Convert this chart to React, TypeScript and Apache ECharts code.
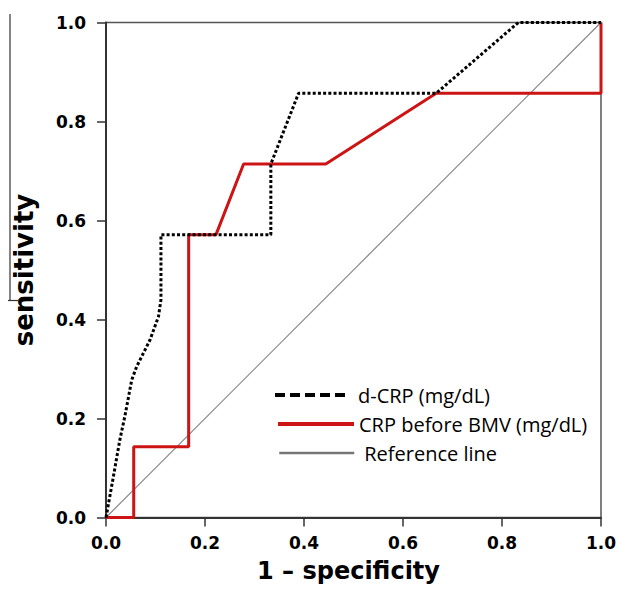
import React, { useEffect, useRef } from "react";
import * as echarts from "echarts";

const xTicks = ["0.0", "0.2", "0.4", "0.6", "0.8", "1.0"];
const yTicks = ["0.0", "0.2", "0.4", "0.6", "0.8", "1.0"];
const seriesNames = ["d-CRP (mg/dL)", "CRP before BMV (mg/dL)", "Reference line"];

const dCrpX = [0, 0.015, 0.028, 0.038, 0.052, 0.062, 0.089, 0.106, 0.111, 0.111, 0.333, 0.333, 0.389, 0.667, 0.833, 1.0];
const dCrpY = [0, 0.083, 0.157, 0.204, 0.278, 0.305, 0.359, 0.406, 0.44, 0.571, 0.571, 0.714, 0.857, 0.857, 1.0, 1.0];

const crpX = [0, 0.056, 0.056, 0.167, 0.167, 0.222, 0.278, 0.444, 0.667, 1.0, 1.0];
const crpY = [0, 0, 0.143, 0.143, 0.571, 0.571, 0.714, 0.714, 0.857, 0.857, 1.0];

const refX = [0, 1];
const refY = [0, 1];

const zip = (xs: number[], ys: number[]) => xs.map((x, i) => [x, ys[i]]);

export default function App() {
  const ref = useRef<HTMLDivElement>(null);
  useEffect(() => {
    if (!ref.current) return;
    const chart = echarts.init(ref.current, undefined, { renderer: "svg" });
    const tickFont = {
      fontFamily: "DejaVu Sans",
      fontWeight: "bold" as const,
      fontSize: 17,
      color: "#000",
    };
    const legendText = { fontFamily: "Open Sans", fontSize: 20, color: "#000" };
    const hiddenItem = { color: "transparent", borderColor: "transparent", borderWidth: 0, opacity: 0 };
    chart.setOption({
      animation: false,
      backgroundColor: "#fff",
      grid: {
        left: 106,
        right: 20,
        top: 22.5,
        bottom: 71.5,
        show: true,
        borderColor: "#555",
        borderWidth: 1.5,
        containLabel: false,
        outerBoundsMode: "none",
      },
      xAxis: {
        type: "value",
        min: 0,
        max: 1,
        interval: 0.2,
        name: "1 – specificity",
        nameLocation: "middle",
        nameGap: 41,
        nameTextStyle: {
          fontFamily: "DejaVu Sans",
          fontWeight: "bold",
          fontSize: 24,
          color: "#000",
          padding: [0, 10, 0, 0],
        },
        axisLine: { show: true, lineStyle: { color: "#333", width: 2 } },
        axisTick: { show: true, inside: false, length: 9, lineStyle: { color: "#333", width: 1.5 } },
        axisLabel: { ...tickFont, margin: 17, formatter: (v: number) => xTicks[Math.round(v * 5)] ?? "" },
        splitLine: { show: false },
      },
      yAxis: {
        type: "value",
        min: 0,
        max: 1,
        interval: 0.2,
        name: "sensitivity",
        nameLocation: "middle",
        nameRotate: 90,
        nameGap: 69,
        nameTextStyle: {
          fontFamily: "DejaVu Sans",
          fontWeight: "bold",
          fontSize: 26,
          color: "#000",
        },
        axisLine: { show: true, lineStyle: { color: "#333", width: 2 } },
        axisTick: { show: true, inside: false, length: 9, lineStyle: { color: "#333", width: 1.5 } },
        axisLabel: { ...tickFont, margin: 20, formatter: (v: number) => yTicks[Math.round(v * 5)] ?? "" },
        splitLine: { show: false },
      },
      legend: [
        {
          data: [seriesNames[0]],
          orient: "vertical",
          left: 273,
          top: 385,
          padding: 0,
          itemWidth: 75,
          itemHeight: 20,
          textStyle: { ...legendText, padding: [0, 0, 0, 3] },
          itemStyle: hiddenItem,
          lineStyle: { color: "#000", width: 4, type: [10, 5] },
        },
        {
          data: [seriesNames[1]],
          orient: "vertical",
          left: 276,
          top: 414,
          padding: 0,
          itemWidth: 76,
          itemHeight: 20,
          textStyle: legendText,
          itemStyle: hiddenItem,
          lineStyle: { color: "#cc1414", width: 4, type: "solid" },
        },
        {
          data: [seriesNames[2]],
          orient: "vertical",
          left: 278,
          top: 443,
          padding: 0,
          itemWidth: 75,
          itemHeight: 20,
          textStyle: { ...legendText, padding: [0, 0, 0, 5] },
          itemStyle: hiddenItem,
          lineStyle: { color: "#777", width: 2.5, type: "solid" },
        },
      ],
      graphic: [
        {
          type: "line",
          shape: { x1: 10, y1: 14, x2: 10, y2: 301 },
          style: { stroke: "#333", lineWidth: 1.2 },
          silent: true,
        },
        {
          type: "line",
          shape: { x1: 8, y1: 300.5, x2: 18, y2: 300.5 },
          style: { stroke: "#333", lineWidth: 1.2 },
          silent: true,
        },
      ],
      series: [
        {
          name: seriesNames[2],
          type: "line",
          data: zip(refX, refY),
          symbol: "none",
          lineStyle: { color: "#888", width: 1.2 },
          z: 2,
        },
        {
          name: seriesNames[1],
          type: "line",
          data: zip(crpX, crpY),
          symbol: "none",
          lineStyle: { color: "#cc1414", width: 3 },
          z: 3,
        },
        {
          name: seriesNames[0],
          type: "line",
          data: zip(dCrpX, dCrpY),
          symbol: "none",
          lineStyle: { color: "#000", width: 3, type: [3, 2.2] },
          z: 4,
        },
      ],
    });
    return () => chart.dispose();
  }, []);
  return (
    <div
      ref={ref}
      style={{ position: "fixed", left: 0, top: 0, width: 621, height: 589 }}
    />
  );
}
